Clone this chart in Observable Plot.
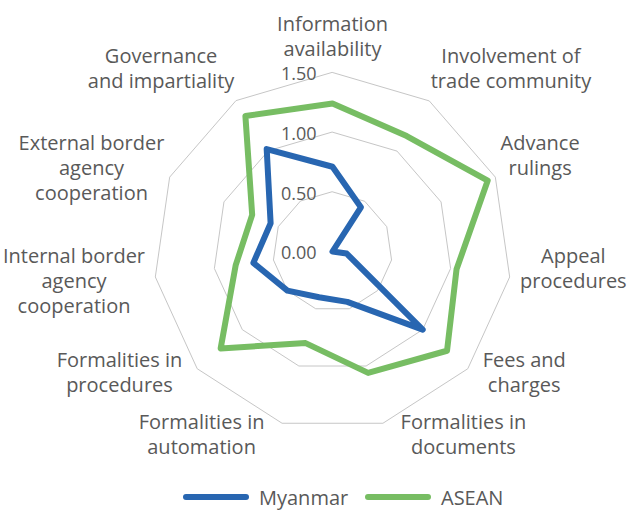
<!DOCTYPE html>
<html>
<head>
<meta charset="utf-8">
<script src="https://cdn.jsdelivr.net/npm/d3@7"></script>
<script src="https://cdn.jsdelivr.net/npm/@observablehq/plot@0.6"></script>
<style>
  body { margin: 0; background: #fff; }
  #chart svg { display: block; }
  #legend { position: relative; width: 634px; height: 34px; font-family: "Open Sans", sans-serif; font-size: 20px; color: #595959; }
  .item { position: absolute; top: 0; height: 34px; display: flex; align-items: center; }
  .sw { width: 66px; height: 6px; border-radius: 3px; margin-right: 10px; }
</style>
</head>
<body>
<div id="chart"></div>
<div id="legend"></div>
<script>
// ---- data ----
const categories = [
  "Information\navailability",
  "Involvement of\ntrade community",
  "Advance\nrulings",
  "Appeal\nprocedures",
  "Fees and\ncharges",
  "Formalities in\ndocuments",
  "Formalities in\nautomation",
  "Formalities in\nprocedures",
  "Internal border\nagency\ncooperation",
  "External border\nagency\ncooperation",
  "Governance\nand impartiality"
];
const myanmar = [0.71, 0.44, 0.00, 0.12, 1.00, 0.44, 0.40, 0.50, 0.67, 0.57, 1.02];
const asean   = [1.24, 1.15, 1.43, 1.05, 1.27, 1.06, 0.80, 1.24, 0.82, 0.74, 1.35];
const seriesNames = ["Myanmar", "ASEAN"];
const seriesColors = ["#2866b1", "#77bd63"];
const tickValues = [0, 0.5, 1.0, 1.5];

// ---- layout helpers ----
const W = 634, H = 480;
const maxV = 1.5;
const fontSize = 20, tickFontSize = 18, lineH = 25;
const textColor = "#595959";
const step = 360 / categories.length;
const lon = i => 180 - i * step;

const rows = [];
[myanmar, asean].forEach((vals, s) =>
  vals.forEach((v, i) => rows.push({name: seriesNames[s], i, lon: lon(i), lat: 90 - v}))
);
const grid = [];
tickValues.filter(t => t > 0).forEach(t =>
  categories.forEach((c, i) => grid.push({t, lon: lon(i), lat: 90 - t}))
);

const ctx = document.createElement("canvas").getContext("2d");
ctx.font = `${fontSize}px "Open Sans"`;

const labelMarks = categories.map((c, i) => {
  const a = i * step * Math.PI / 180;
  const s = Math.sin(a), co = Math.cos(a);
  const lines = c.split("\n");
  const w = Math.max(...lines.map(l => ctx.measureText(l).width));
  const side = Math.abs(s) < 0.2 ? 0 : Math.sign(s);
  const gap = 9 - 9 * co;
  return Plot.text([c], {
    x: () => lon(i), y: () => 90 - maxV, text: d => d,
    textAnchor: "middle", lineAnchor: "top", lineHeight: lineH / fontSize,
    dx: side * (w / 2 + gap), dy: -35 - 24 * co,
    fill: textColor, fontSize
  });
});

const plot = Plot.plot({
  width: W, height: H,
  marginLeft: 153, marginRight: 123, marginTop: 72, marginBottom: 50,
  projection: {
    type: "azimuthal-equidistant",
    rotate: [0, -90],
    domain: d3.geoCircle().center([0, 90]).radius(maxV)(),
    clip: false
  },
  color: {domain: seriesNames, range: seriesColors},
  style: {fontFamily: '"Open Sans", sans-serif', fontSize: fontSize + "px", background: "#fff"},
  marks: [
    Plot.line(grid, {x: "lon", y: "lat", z: "t", curve: "linear-closed", stroke: "#c6c6c6", strokeWidth: 1}),
    Plot.line(rows, {x: "lon", y: "lat", z: "name", stroke: "name", curve: "linear-closed",
      strokeWidth: 6, strokeLinejoin: "round", strokeLinecap: "round"}),
    Plot.text(tickValues, {x: () => 180, y: d => 90 - d, text: d => d.toFixed(2),
      textAnchor: "end", dx: -16, dy: 2, fill: textColor, fontSize: tickFontSize}),
    ...labelMarks
  ]
});
document.getElementById("chart").append(plot);

// ---- legend ----
const legend = document.getElementById("legend");
const legendLeft = [183, 365];
seriesNames.forEach((n, k) => {
  const it = document.createElement("div");
  it.className = "item";
  it.style.left = legendLeft[k] + "px";
  const sw = document.createElement("div");
  sw.className = "sw";
  sw.style.background = seriesColors[k];
  const tx = document.createElement("span");
  tx.textContent = n;
  it.append(sw, tx);
  legend.append(it);
});
</script>
</body>
</html>
